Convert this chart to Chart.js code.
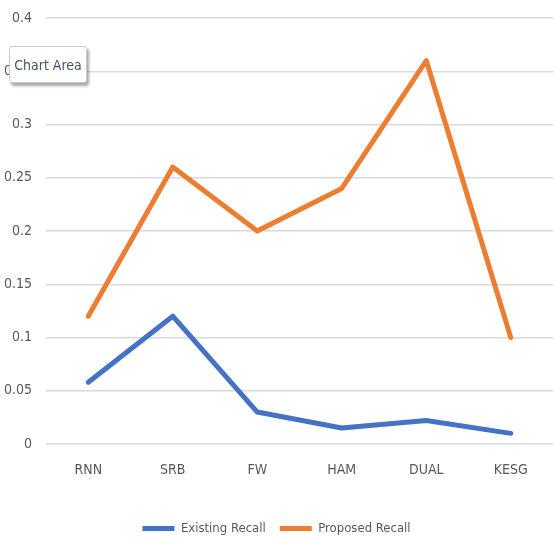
<!DOCTYPE html>
<html>
<head>
<meta charset="utf-8">
<script src="https://cdn.jsdelivr.net/npm/chart.js@4/dist/chart.umd.min.js"></script>
<style>
  html, body { margin: 0; padding: 0; background: #ffffff; }
  #wrap { position: relative; width: 555px; height: 539px; overflow: hidden; }
  #tip {
    position: absolute; left: 9px; top: 46px; width: 78px; height: 37px;
    background: #ffffff; border: 1px solid #c9c9c9; border-radius: 3px;
    box-shadow: 2px 3px 3px rgba(0,0,0,0.35);
    font: 14px "DejaVu Sans Condensed", "Liberation Sans", sans-serif;
    color: #44546A; line-height: 37px; text-align: center; box-sizing: border-box;
    white-space: nowrap; overflow: hidden;
  }
</style>
</head>
<body>
<div id="wrap">
  <canvas id="c" width="555" height="539"></canvas>
  <div id="tip">Chart Area</div>
</div>
<script>
const categories = ["RNN", "SRB", "FW", "HAM", "DUAL", "KESG"];
const existingRecall = [0.058, 0.12, 0.03, 0.015, 0.022, 0.01];
const proposedRecall = [0.12, 0.26, 0.20, 0.24, 0.36, 0.10];
const seriesNames = ["Existing Recall", "Proposed Recall"];

const FONT = "'DejaVu Sans Condensed', 'Liberation Sans', sans-serif";
const TEXT = "#595959";

new Chart(document.getElementById("c"), {
  type: "line",
  data: {
    labels: categories,
    datasets: [
      { label: seriesNames[0], data: existingRecall, borderColor: "#4472C4", backgroundColor: "#4472C4",
        borderWidth: 5, pointRadius: 0, tension: 0, borderCapStyle: "round", borderJoinStyle: "round" },
      { label: seriesNames[1], data: proposedRecall, borderColor: "#ED7D31", backgroundColor: "#ED7D31",
        borderWidth: 5, pointRadius: 0, tension: 0, borderCapStyle: "round", borderJoinStyle: "round" }
    ]
  },
  options: {
    responsive: false,
    animation: false,
    layout: { padding: { left: 0, right: 2, top: 18, bottom: -6 } },
    plugins: {
      tooltip: { enabled: false },
      legend: {
        position: "bottom",
        labels: {
          usePointStyle: true, pointStyle: "line", pointStyleWidth: 32,
          color: TEXT, font: { family: FONT, size: 13 }, padding: 14
        }
      }
    },
    scales: {
      x: {
        offset: true,
        afterFit: (s) => { s.height = 64; },
        grid: { display: false },
        border: { display: false },
        ticks: { color: TEXT, font: { family: FONT, size: 14 }, padding: 10 }
      },
      y: {
        min: 0, max: 0.4,
        afterFit: (s) => { s.width = 46; s.paddingTop = 0; },
        grid: { color: "#d9d9d9", lineWidth: 1.5, drawTicks: false },
        border: { display: false },
        ticks: {
          stepSize: 0.05, padding: 14, color: TEXT, font: { family: FONT, size: 14 },
          callback: (v) => String(Math.round(v * 100) / 100)
        }
      }
    }
  }
});
</script>
</body>
</html>
